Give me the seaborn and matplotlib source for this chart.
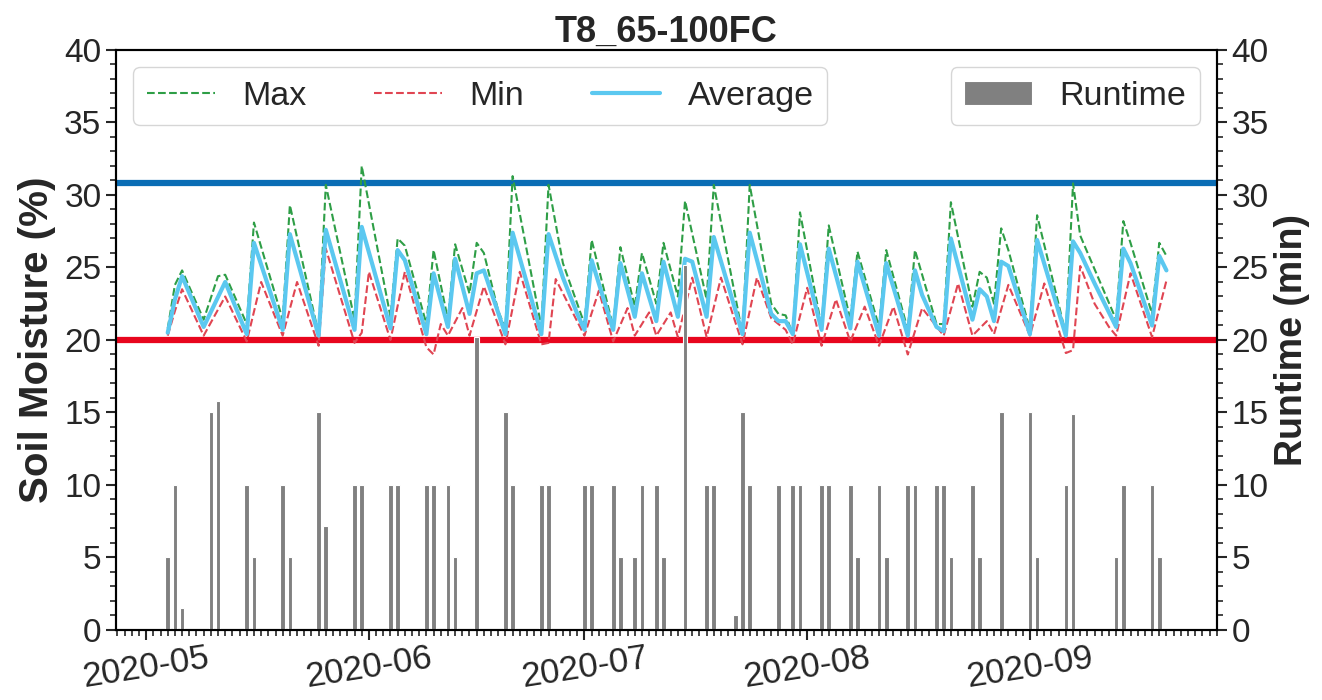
import seaborn as sns
import pandas as pd
import matplotlib.pyplot as plt
import matplotlib.dates as mdates
from matplotlib.ticker import MultipleLocator

sns.set_style("ticks")
plt.rcParams["font.family"] = ["Liberation Sans", "DejaVu Sans"]

# soil moisture, read at the turning points of each line (%)
avg_dates = ["05-04", "05-05", "05-06", "05-09", "05-12", "05-15", "05-16", "05-20", "05-21", "05-25",
             "05-26", "05-30", "05-31", "06-04", "06-05", "06-06", "06-09", "06-10", "06-12", "06-13",
             "06-15", "06-16", "06-17", "06-20", "06-21", "06-25", "06-26", "06-28", "06-30", "07-01",
             "07-02", "07-05", "07-06", "07-08", "07-09", "07-11", "07-12", "07-14", "07-15", "07-16",
             "07-18", "07-19", "07-23", "07-24", "07-27", "07-28", "07-29", "07-30", "07-31", "08-03",
             "08-04", "08-07", "08-08", "08-11", "08-12", "08-15", "08-16", "08-17", "08-19", "08-20",
             "08-21", "08-24", "08-25", "08-26", "08-27", "08-28", "08-29", "09-01", "09-02", "09-06",
             "09-07", "09-08", "09-10", "09-12", "09-13", "09-14", "09-15", "09-18", "09-19", "09-20"]
avg_vals = [20.5, 22.8, 24.4, 20.9, 24.0, 20.4, 26.7, 20.7, 27.3, 20.3,
            27.6, 20.7, 27.8, 20.8, 26.2, 25.5, 20.4, 24.6, 20.9, 25.6,
            21.8, 24.6, 24.8, 20.4, 27.4, 20.4, 27.3, 24.3, 21.8, 20.7,
            25.5, 20.7, 25.3, 21.6, 24.6, 21.3, 25.4, 21.6, 25.6, 25.4,
            21.6, 27.1, 20.4, 27.4, 21.8, 21.3, 21.3, 20.4, 26.6, 20.7,
            26.3, 20.8, 25.4, 20.3, 25.3, 20.3, 24.8, 23.1, 20.9, 20.6,
            27.0, 21.4, 23.5, 23.0, 21.3, 25.4, 25.1, 20.4, 26.9, 20.3,
            26.8, 26.0, 23.9, 21.9, 20.9, 26.3, 25.3, 21.0, 25.8, 24.8]

max_dates = ["05-04", "05-05", "05-06", "05-09", "05-11", "05-12", "05-15", "05-16", "05-20", "05-21",
             "05-25", "05-26", "05-30", "05-31", "06-04", "06-05", "06-06", "06-09", "06-10", "06-12",
             "06-13", "06-15", "06-16", "06-17", "06-19", "06-20", "06-21", "06-25", "06-26", "06-28",
             "07-01", "07-02", "07-05", "07-06", "07-08", "07-09", "07-11", "07-12", "07-14", "07-15",
             "07-18", "07-19", "07-23", "07-24", "07-27", "07-28", "07-29", "07-30", "07-31", "08-03",
             "08-04", "08-07", "08-08", "08-11", "08-12", "08-15", "08-16", "08-19", "08-20", "08-21",
             "08-24", "08-25", "08-26", "08-27", "08-28", "08-29", "09-01", "09-02", "09-06", "09-07",
             "09-08", "09-13", "09-14", "09-15", "09-18", "09-19", "09-20"]
max_vals = [20.8, 23.8, 24.8, 21.4, 24.4, 24.5, 21.1, 28.1, 21.4, 29.3,
            20.4, 30.7, 21.4, 32.0, 21.6, 27.0, 26.5, 21.1, 26.2, 21.4,
            26.6, 23.2, 26.7, 26.0, 22.0, 20.8, 31.3, 20.9, 30.7, 25.3,
            21.1, 26.9, 20.9, 26.4, 22.3, 26.0, 22.5, 26.7, 23.0, 29.6,
            22.8, 30.7, 20.4, 30.7, 22.5, 21.8, 21.7, 20.4, 28.8, 20.9,
            27.9, 21.4, 26.1, 20.9, 26.2, 20.7, 26.2, 21.1, 21.1, 29.5,
            22.3, 24.7, 24.3, 22.5, 27.7, 26.2, 20.7, 28.6, 20.4, 30.8,
            27.2, 21.4, 28.2, 26.7, 21.8, 26.7, 25.8]

min_dates = ["05-04", "05-05", "05-06", "05-09", "05-12", "05-15", "05-17", "05-20", "05-22", "05-25",
             "05-26", "05-30", "05-31", "06-01", "06-04", "06-06", "06-09", "06-10", "06-11", "06-12",
             "06-14", "06-15", "06-17", "06-20", "06-22", "06-25", "06-26", "06-27", "07-01", "07-03",
             "07-05", "07-07", "07-08", "07-10", "07-11", "07-13", "07-14", "07-16", "07-18", "07-20",
             "07-23", "07-25", "07-27", "07-29", "07-30", "08-01", "08-03", "08-05", "08-07", "08-09",
             "08-11", "08-13", "08-15", "08-17", "08-20", "08-22", "08-24", "08-26", "08-27", "08-29",
             "09-01", "09-03", "09-06", "09-07", "09-08", "09-10", "09-12", "09-13", "09-15", "09-18",
             "09-20"]
min_vals = [20.3, 22.0, 23.5, 20.3, 23.0, 19.9, 24.0, 20.3, 24.0, 19.6,
            26.3, 19.8, 20.5, 24.7, 20.0, 24.7, 19.5, 19.0, 21.1, 20.3,
            22.2, 20.3, 23.7, 19.7, 24.7, 19.7, 19.8, 24.2, 20.3, 23.4,
            19.9, 22.2, 20.3, 21.9, 20.3, 21.9, 20.2, 24.3, 20.2, 24.3,
            19.7, 24.3, 21.5, 20.7, 19.7, 23.6, 19.6, 22.8, 19.9, 22.3,
            19.6, 22.3, 19.0, 22.2, 20.3, 23.9, 20.3, 21.3, 20.4, 23.8,
            20.3, 23.9, 19.1, 19.3, 25.1, 22.5, 20.9, 20.3, 24.6, 20.2,
            24.1]

# irrigation runtime (min)
run_dates = ["05-04", "05-05", "05-06", "05-10", "05-11", "05-15", "05-16", "05-20", "05-21", "05-25",
             "05-26", "05-30", "05-31", "06-04", "06-05", "06-09", "06-10", "06-12", "06-13", "06-16",
             "06-20", "06-21", "06-25", "06-26", "07-01", "07-02", "07-05", "07-06", "07-08", "07-09",
             "07-11", "07-12", "07-15", "07-18", "07-19", "07-22", "07-23", "07-24", "07-28", "07-30",
             "07-31", "08-03", "08-04", "08-07", "08-08", "08-11", "08-12", "08-15", "08-16", "08-19",
             "08-20", "08-21", "08-24", "08-25", "08-28", "09-01", "09-02", "09-06", "09-07", "09-13",
             "09-14", "09-18", "09-19"]
run_vals = [5, 10, 1.5, 15, 15.8, 10, 5, 10, 5, 15,
            7.2, 10, 10, 10, 10, 10, 10, 10, 5, 20.2,
            15, 10, 10, 10, 10, 10, 10, 5, 5, 10,
            10, 5, 25.2, 10, 10, 1, 15, 10, 10, 10,
            10, 10, 10, 10, 5, 10, 5, 10, 10, 10,
            10, 5, 10, 5, 15, 15, 5, 10, 14.9, 5,
            10, 10, 5]

upper_limit = 30.8
lower_limit = 20


def to_frame(dates, vals):
    return pd.DataFrame({"date": pd.to_datetime(["2020-" + d for d in dates]), "value": vals})


fig, ax = plt.subplots(figsize=(13.22, 7), dpi=100)
fig.subplots_adjust(left=0.0877, right=0.9206, bottom=0.1, top=0.9286)

ax.axhline(upper_limit, color="#0a6db5", lw=4.5, zorder=1)
ax.axhline(lower_limit, color="#e8061e", lw=4.5, zorder=1)

sns.lineplot(data=to_frame(max_dates, max_vals), x="date", y="value", ax=ax,
             color="#2e9e46", ls="--", lw=1.5, label="Max")
sns.lineplot(data=to_frame(min_dates, min_vals), x="date", y="value", ax=ax,
             color="#e04552", ls="--", lw=1.5, label="Min")
sns.lineplot(data=to_frame(avg_dates, avg_vals), x="date", y="value", ax=ax,
             color="#5bc8f0", lw=3, label="Average")

ax2 = ax.twinx()
runs = to_frame(run_dates, run_vals)
ax2.bar(runs["date"], runs["value"], width=0.65, color="gray", edgecolor="white",
        linewidth=0.8, label="Runtime")

ax.set_xlim(pd.Timestamp("2020-04-26 19:00"), pd.Timestamp("2020-09-27 01:00"))
for a in (ax, ax2):
    a.set_ylim(0, 40)
    a.yaxis.set_major_locator(MultipleLocator(5))
    a.yaxis.set_minor_locator(MultipleLocator(1))
    a.tick_params(which="major", labelsize=24, length=7, width=1.5)
    a.tick_params(which="minor", length=4, width=1.2)
    for s in a.spines.values():
        s.set_color("black")
        s.set_linewidth(1.5)

ax.xaxis.set_major_locator(mdates.MonthLocator())
ax.xaxis.set_minor_locator(mdates.DayLocator())
ax.xaxis.set_major_formatter(mdates.DateFormatter("%Y-%m"))
ax.tick_params(axis="x", which="major", labelsize=25, pad=1)
plt.setp(ax.get_xticklabels(), rotation=9)

ax.set_xlabel("")
ax.set_ylabel("Soil Moisture (%)", fontsize=29, fontweight="bold", labelpad=6)
ax2.set_ylabel("Runtime (min)", fontsize=27, fontweight="bold")
ax.set_title("T8_65-100FC", fontsize=26, fontweight="bold", pad=4)

ax.legend(loc="upper left", ncol=3, fontsize=24.5, handlelength=2.0)
ax2.legend(loc="upper right", fontsize=24.5)

plt.savefig("out.png", dpi=100)
